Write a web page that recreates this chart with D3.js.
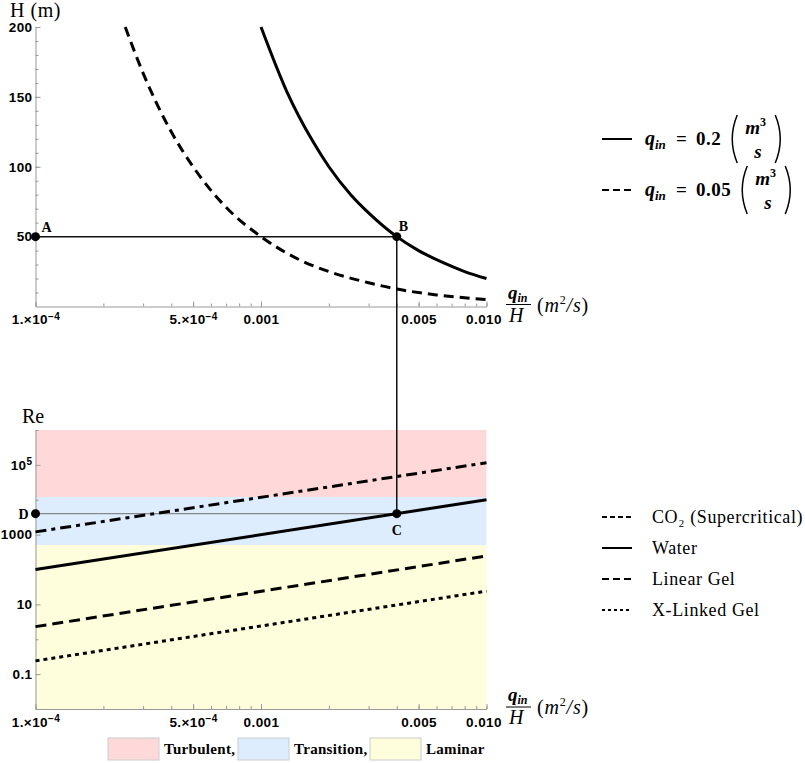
<!DOCTYPE html>
<html lang="en">
<head>
<meta charset="utf-8">
<title>H and Re vs q/H</title>
<script src="https://cdn.jsdelivr.net/npm/d3@7"></script>
<style>
body { margin: 0; background: #fff; }
.tick text { font-family: "Liberation Sans", Arial, sans-serif; font-weight: bold; font-size: 13.5px; letter-spacing: 0.4px; fill: #000; }
.tick line, .domain { stroke: #999; }
.serif { font-family: "Liberation Serif", "Times New Roman", serif; }
</style>
</head>
<body>
<svg id="chart" width="805" height="763"></svg>
<script>
// --- top panel: H against q_in/H, two injection rates
var xTopSolid = [0.001, 0.0013, 0.0017, 0.002, 0.0025, 0.003, 0.004, 0.005, 0.0065, 0.008, 0.01];
var hSolid    = [200, 154, 118, 100, 80, 67, 50, 40, 31, 25, 20];
var xTopDash  = [0.00025, 0.0003, 0.0004, 0.0005, 0.0007, 0.001, 0.0015, 0.002, 0.003, 0.004, 0.006, 0.01];
var hDash     = [200, 167, 125, 100, 71, 50, 33, 25, 17, 12.5, 8.3, 5];
var rateValues = ["0.2", "0.05"];

// --- bottom panel: Reynolds number against q_in/H
var fluids   = ["CO\u2082 (Supercritical)", "Water", "Linear Gel", "X-Linked Gel"];
var reX      = [1e-4, 1e-2];
var reCO2    = [1200, 115000];
var reWater  = [100, 10000];
var reLinGel = [2.3, 245];
var reXGel   = [0.24, 24];

// flow regime bands
var regimes     = ["Turbulent,", "Transition,", "Laminar"];
var regimeLow   = [12000, 500, 0.01];
var regimeHigh  = [1e6, 12000, 500];
var regimeColor = ["#ffd9d9", "#ddedfd", "#fefedd"];

// tick labels
var xMajor  = [1e-4, 5e-4, 1e-3, 5e-3, 1e-2];
var xLabels = ["1.\u00d710^\u22124", "5.\u00d710^\u22124", "0.001", "0.005", "0.010"];
var hMajor  = [50, 100, 150, 200];
var reMajor = [0.1, 10, 1000, 1e5];
var reLabels = ["0.1", "10", "1000", "10^5"];

// marked points A B C D
var ptNames = ["A", "B", "C", "D"];
var ptX = [1e-4, 0.004, 0.004, 1e-4];
var ptH = [50, 50];
var ptRe = [4000, 4000];

var svg = d3.select("#chart");

var x = d3.scaleLog().domain([1e-4, 1e-2]).range([35.5, 486.5]);
var yTop = d3.scaleLinear().domain([0, 200]).range([306.5, 27]);
var yBot = d3.scaleLog().domain([1e-2, 1e6]).range([709, 430]);

function supLabels(sel) {
  sel.selectAll(".tick text").each(function() {
    var t = d3.select(this), s = t.text();
    if (s.indexOf("^") < 0) return;
    var parts = s.split("^");
    t.text(parts[0]);
    t.append("tspan").attr("dy", "-0.45em").attr("font-size", "10px").text(parts[1]);
  });
}
function fmt(vals, labs) {
  return function(d) { var i = vals.indexOf(d); return i < 0 ? "" : labs[i]; };
}

function xAxes(y0) {
  svg.append("g").attr("transform", "translate(0," + y0 + ")")
    .call(d3.axisBottom(x).tickValues(x.ticks()).tickSize(-3).tickSizeOuter(0).tickFormat(""));
  var g = svg.append("g").attr("transform", "translate(0," + y0 + ")")
    .call(d3.axisBottom(x).tickValues(xMajor).tickSize(-5).tickSizeOuter(0).tickPadding(8)
      .tickFormat(fmt(xMajor, xLabels)));
  g.select(".domain").remove();
  // last label sits a little left of its tick, as in the original
  g.selectAll(".tick text").filter(function(d) { return d === 1e-2; }).attr("dx", -3);
  supLabels(g);
}

// regime bands
svg.append("g").selectAll("rect").data(regimes).join("rect")
  .attr("x", x.range()[0]).attr("width", x.range()[1] - x.range()[0])
  .attr("y", function(d, i) { return yBot(regimeHigh[i]); })
  .attr("height", function(d, i) { return yBot(regimeLow[i]) - yBot(regimeHigh[i]); })
  .attr("fill", function(d, i) { return regimeColor[i]; });

// axes top
xAxes(yTop(0));
svg.append("g").attr("transform", "translate(35.5,0)")
  .call(d3.axisLeft(yTop).tickValues(d3.range(10, 201, 10)).tickSize(-3).tickSizeOuter(0).tickFormat(""));
svg.append("g").attr("transform", "translate(35.5,0)")
  .call(d3.axisLeft(yTop).tickValues(hMajor).tickSize(-5).tickSizeOuter(0).tickPadding(3))
  .select(".domain").remove();

// axes bottom
xAxes(yBot(1e-2));
svg.append("g").attr("transform", "translate(35.5,0)")
  .call(d3.axisLeft(yBot).tickValues([0.01, 1, 100, 1e4, 1e6]).tickSize(-3).tickSizeOuter(0).tickFormat(""));
var gy = svg.append("g").attr("transform", "translate(35.5,0)")
  .call(d3.axisLeft(yBot).tickValues(reMajor).tickSize(-5).tickSizeOuter(0).tickPadding(3)
    .tickFormat(fmt(reMajor, reLabels)));
gy.select(".domain").remove();
supLabels(gy);

// guide lines
svg.append("line").attr("x1", x(ptX[3])).attr("x2", x(ptX[2]))
  .attr("y1", yBot(ptRe[0])).attr("y2", yBot(ptRe[0])).attr("stroke", "#888").attr("stroke-width", 1.2);
svg.append("line").attr("x1", x(ptX[0])).attr("x2", x(ptX[1]))
  .attr("y1", yTop(ptH[0])).attr("y2", yTop(ptH[0])).attr("stroke", "#111").attr("stroke-width", 1.5);
svg.append("line").attr("x1", x(ptX[1])).attr("x2", x(ptX[2]))
  .attr("y1", yTop(ptH[1])).attr("y2", yBot(ptRe[1])).attr("stroke", "#111").attr("stroke-width", 1.5);

// top curves
var lineTop = d3.line().x(function(d) { return x(d[0]); }).y(function(d) { return yTop(d[1]); })
  .curve(d3.curveMonotoneX);
svg.append("path").attr("d", lineTop(d3.zip(xTopSolid, hSolid)))
  .attr("fill", "none").attr("stroke", "#000").attr("stroke-width", 3);
svg.append("path").attr("d", lineTop(d3.zip(xTopDash, hDash)))
  .attr("fill", "none").attr("stroke", "#000").attr("stroke-width", 3).attr("stroke-dasharray", "10,6");

// bottom lines
var reSeries = [reCO2, reWater, reLinGel, reXGel];
var reDash = ["11,5,4,5", null, "11,6", "4,4"];
var legDash = ["5,3", null, "7,4", "3,3"];
var lineBot = d3.line().x(function(d) { return x(d[0]); }).y(function(d) { return yBot(d[1]); });
svg.append("g").selectAll("path").data(reSeries).join("path")
  .attr("d", function(d) { return lineBot(d3.zip(reX, d)); })
  .attr("fill", "none").attr("stroke", "#000").attr("stroke-width", 3)
  .attr("stroke-dasharray", function(d, i) { return reDash[i]; });

// points
var ptPos = [[x(ptX[0]), yTop(ptH[0])], [x(ptX[1]), yTop(ptH[1])],
             [x(ptX[2]), yBot(ptRe[1])], [x(ptX[3]), yBot(ptRe[0])]];
var ptOff = [[6, -5], [2, -6], [-5, 21], [-17, 5]];
svg.append("g").selectAll("circle").data(ptPos).join("circle")
  .attr("cx", function(d) { return d[0]; }).attr("cy", function(d) { return d[1]; })
  .attr("r", 4.5).attr("fill", "#000");
svg.append("g").selectAll("text").data(ptNames).join("text")
  .attr("class", "serif").attr("font-weight", "bold").attr("font-size", "14px")
  .attr("x", function(d, i) { return ptPos[i][0] + ptOff[i][0]; })
  .attr("y", function(d, i) { return ptPos[i][1] + ptOff[i][1]; })
  .text(function(d) { return d; });

// axis titles, centred over the vertical axes
svg.append("text").attr("class", "serif").attr("x", 35.5).attr("y", 17).attr("text-anchor", "middle")
  .attr("font-size", "20px").attr("letter-spacing", "0.5px").text("H (m)");
svg.append("text").attr("class", "serif").attr("x", 33).attr("y", 423).attr("text-anchor", "middle")
  .attr("font-size", "20px").text("Re");

function qOverH(y0) {
  var g = svg.append("g").attr("class", "serif").attr("font-style", "italic");
  var t = g.append("text").attr("x", 508).attr("y", y0 - 8).attr("font-size", "19px").attr("font-weight", "bold");
  t.append("tspan").text("q");
  t.append("tspan").attr("dy", 3).attr("font-size", "12px").text("in");
  g.append("line").attr("x1", 506).attr("x2", 531).attr("y1", y0 - 2).attr("y2", y0 - 2)
    .attr("stroke", "#000").attr("stroke-width", 1);
  g.append("text").attr("x", 509).attr("y", y0 + 15).attr("font-size", "20px").text("H");
  var u = g.append("text").attr("x", 537).attr("y", y0 + 5).attr("font-size", "20px").attr("letter-spacing", "0.8px");
  u.append("tspan").attr("font-style", "normal").text("(");
  u.append("tspan").text("m");
  u.append("tspan").attr("dy", -8).attr("font-size", "12px").attr("font-style", "normal").text("2");
  u.append("tspan").attr("dy", 8).text("/s");
  u.append("tspan").attr("font-style", "normal").text(")");
}
qOverH(yTop(0));
qOverH(yBot(1e-2));

// top legend
var legTopY = [139, 190];
legTopY.forEach(function(ly, i) {
  var g = svg.append("g").attr("class", "serif").attr("font-weight", "bold");
  g.append("line").attr("x1", 602).attr("x2", 632).attr("y1", ly).attr("y2", ly)
    .attr("stroke", "#000").attr("stroke-width", 2).attr("stroke-dasharray", i ? "7,4" : null);
  var t = g.append("text").attr("x", 645).attr("y", ly + 6).attr("font-size", "20px");
  t.append("tspan").attr("font-style", "italic").text("q");
  t.append("tspan").attr("dy", 4).attr("font-size", "13px").attr("font-style", "italic").text("in");
  g.append("text").attr("x", 676).attr("y", ly + 6).attr("font-size", "19px").text("=");
  var v = g.append("text").attr("x", 696).attr("y", ly + 6).attr("font-size", "19px")
    .attr("letter-spacing", "0.5px").text(rateValues[i]);
  var bb = v.node().getBBox(), px = bb.x + bb.width + 9;
  g.append("path").attr("d", "M" + (px + 7) + "," + (ly - 24) + " Q" + (px - 3) + "," + ly + " " + (px + 7) + "," + (ly + 24))
    .attr("fill", "none").attr("stroke", "#000").attr("stroke-width", 1.5);
  var m = g.append("text").attr("x", px + 15).attr("y", ly - 5).attr("font-size", "19px").attr("font-style", "italic");
  m.append("tspan").text("m");
  m.append("tspan").attr("dy", -8).attr("font-size", "12px").attr("font-style", "normal").text("3");
  g.append("text").attr("x", px + 24).attr("y", ly + 19).attr("font-size", "19px").attr("font-style", "italic").text("s");
  var rx = px + 52;
  g.append("path").attr("d", "M" + (rx - 7) + "," + (ly - 24) + " Q" + (rx + 3) + "," + ly + " " + (rx - 7) + "," + (ly + 24))
    .attr("fill", "none").attr("stroke", "#000").attr("stroke-width", 1.5);
});

// bottom legend
var legBotY = [517, 548, 579, 610];
var lg = svg.append("g").attr("class", "serif");
lg.selectAll("line").data(fluids).join("line")
  .attr("x1", 602).attr("x2", 632)
  .attr("y1", function(d, i) { return legBotY[i]; }).attr("y2", function(d, i) { return legBotY[i]; })
  .attr("stroke", "#000").attr("stroke-width", 2)
  .attr("stroke-dasharray", function(d, i) { return legDash[i]; });
lg.selectAll("text").data(fluids).join("text")
  .attr("x", 652).attr("y", function(d, i) { return legBotY[i] + 6; })
  .attr("font-size", "18px").attr("letter-spacing", "0.6px").text(function(d) { return d; });

// regime legend
var swX = [108, 238, 370];
var rg = svg.append("g").attr("class", "serif");
rg.selectAll("rect").data(regimes).join("rect")
  .attr("x", function(d, i) { return swX[i]; }).attr("y", 738).attr("width", 51).attr("height", 22)
  .attr("fill", function(d, i) { return regimeColor[i]; }).attr("stroke", "#ccc");
rg.selectAll("text").data(regimes).join("text")
  .attr("x", function(d, i) { return swX[i] + 56; }).attr("y", 754)
  .attr("font-size", "15px").attr("font-weight", "bold").attr("letter-spacing", "0.3px")
  .text(function(d) { return d; });
</script>
</body>
</html>
